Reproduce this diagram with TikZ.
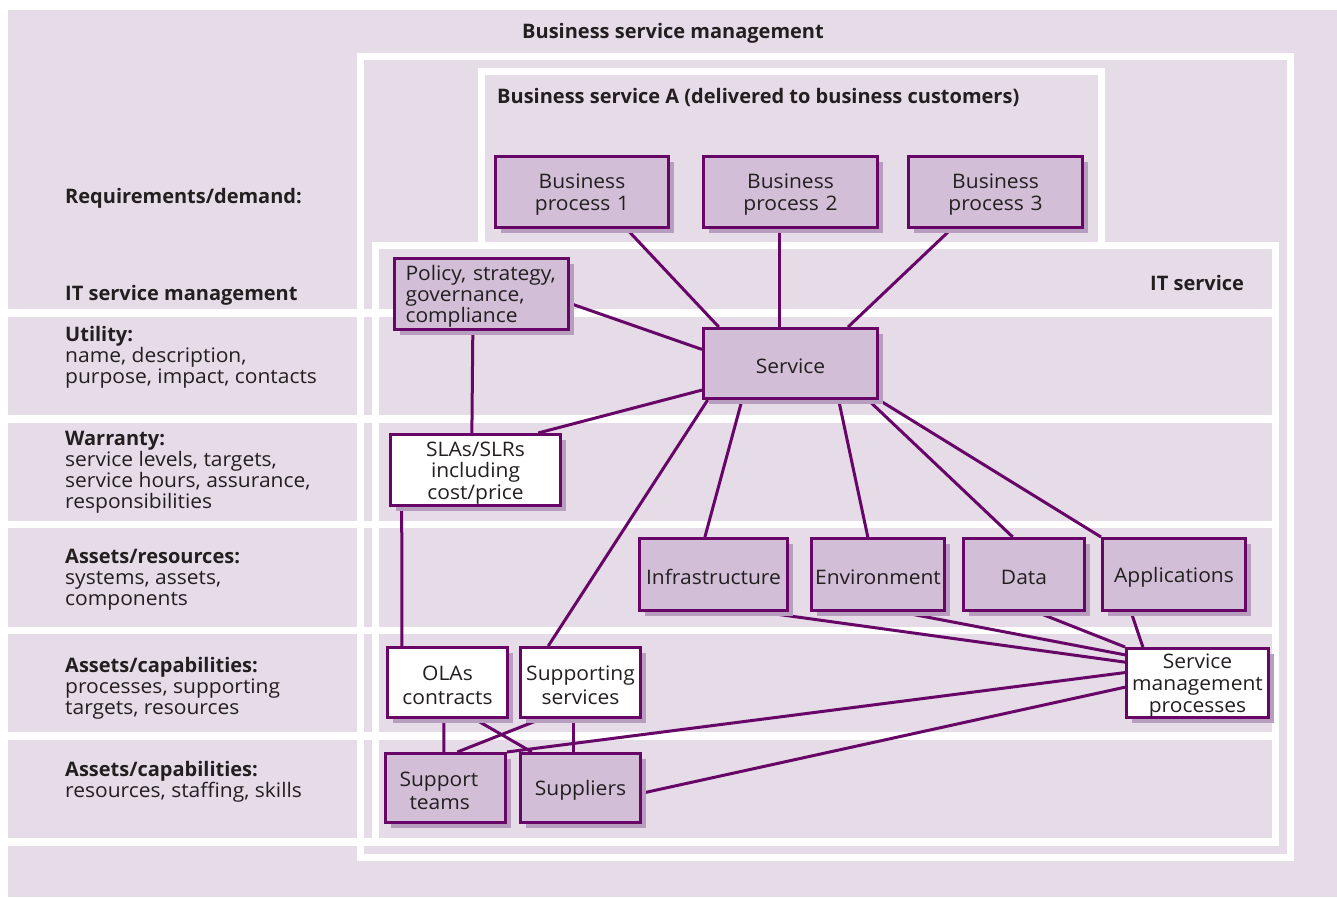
\documentclass[tikz,border=0pt]{standalone}
\usepackage{fontspec}
\setmainfont{Open Sans}[UprightFeatures={FakeStretch=1.05}]
\usetikzlibrary{calc,shadows}
\definecolor{bgc}{RGB}{229,220,232}
\definecolor{boxc}{RGB}{210,190,214}
\definecolor{shc}{RGB}{184,158,190}
\definecolor{lnc}{RGB}{104,6,104}
\definecolor{txc}{RGB}{35,31,32}
\pgfdeclarelayer{back}
\pgfdeclarelayer{wires}
\pgfsetlayers{back,wires,main}
\newcommand{\lblstack}[1]{\vtop{\halign{##\hfil\cr#1\crcr}}}
\begin{document}
\begin{tikzpicture}[x=1pt,y=-1pt,
  font=\fontsize{20}{21}\selectfont, text=txc,
  box/.style={draw=lnc, line width=3pt, fill=boxc, inner sep=0pt, align=center,
    execute at begin node={\rule{0pt}{20pt}},
    drop shadow={shadow xshift=5pt, shadow yshift=-5pt, fill=shc, opacity=1}},
  wbox/.style={box, fill=white},
  lead/.style={font=\fontsize{20}{#1}\selectfont},
  frame/.style={draw=white, line width=7pt},
  wire/.style={draw=lnc, line width=3pt},
  lbl/.style={anchor=base west, inner sep=0pt}]
\useasboundingbox (0,0) rectangle (1337,897);

% boxes
\node[box, lead=22, text width=167pt, minimum width=173pt, minimum height=71pt] (bp1) at (582,192) {Business\\process 1};
\node[box, lead=22, text width=168pt, minimum width=174pt, minimum height=71pt] (bp2) at (790.5,192) {Business\\process 2};
\node[box, lead=22, text width=168pt, minimum width=174pt, minimum height=71pt] (bp3) at (995.5,192) {Business\\process 3};
\node[box, minimum width=174pt, minimum height=71pt, text width=152pt, align=left] (pol) at (481.5,294) {Policy, strategy,\\governance,\\compliance};
\node[box, minimum width=174pt, minimum height=70pt] (svc) at (790.5,363.5) {Service};
\node[wbox, lead=21.5, text width=164pt, minimum width=170pt, minimum height=71pt] (sla) at (475.5,470) {SLAs/SLRs\\including\\cost/price};
\node[box, minimum width=148pt, minimum height=72pt] (inf) at (713.5,574.5) {Infrastructure};
\node[box, minimum width=133pt, minimum height=72pt] (env) at (878,574.5) {Environment};
\node[box, minimum width=121pt, minimum height=72pt] (dat) at (1024,574.5) {Data};
\node[box, minimum width=143pt, minimum height=72pt] (app) at (1174,574.5) {Applications};
\node[wbox, lead=24, text width=116pt, minimum width=120pt, minimum height=70pt] (ola) at (447.5,682.5) {OLAs\\contracts};
\node[wbox, lead=24, text width=118pt, minimum width=120pt, minimum height=70pt] (sup) at (580.5,682.5) {Supporting\\services};
\node[wbox, lead=22, text width=138pt, minimum width=142pt, minimum height=69pt] (smp) at (1197.5,683) {Service\\management\\processes};
\node[box, lead=23, text width=104pt, align=left, minimum width=120pt, minimum height=69pt] (tea) at (445.5,788) {\hspace*{6pt}Support\\\hspace*{16pt}teams};
\node[box, minimum width=120pt, minimum height=69pt] (spl) at (580.5,788) {Suppliers};

% texts
\node[inner sep=0pt, anchor=base] (tbsm) at (673,38) {\bfseries Business service management};
\node[lbl] (tbsa) at (497,103) {\bfseries Business service A (delivered to business customers)};
\node[lbl] (tits) at (1150,290) {\bfseries IT service};
\node[lbl] (lreq) at (65,203) {\bfseries Requirements/demand:};
\node[lbl] (litsm) at (65,300) {\bfseries IT service management};
\node[lbl] (lutil) at (65,341) {\lblstack{\textbf{Utility:}\cr name, description,\cr purpose, impact, contacts}};
\node[lbl] (lwar) at (65,445) {\lblstack{\textbf{Warranty:}\cr service levels, targets,\cr service hours, assurance,\cr responsibilities}};
\node[lbl] (lres) at (65,563) {\lblstack{\textbf{Assets/resources:}\cr systems, assets,\cr components}};
\node[lbl] (lcapa) at (65,672) {\lblstack{\textbf{Assets/capabilities:}\cr processes, supporting\cr targets, resources}};
\node[lbl] (lcapb) at (65,776) {\lblstack{\textbf{Assets/capabilities:}\cr resources, staffing, skills}};

% background frames and row separators
\begin{pgfonlayer}{back}
\fill[bgc] (8,10) rectangle (1337,897);
\draw[frame] (360.5,56.5) rectangle (1290.5,857.5);
\draw[frame] (481.5,71.5) rectangle (1101.5,245.5);
\draw[frame] (375.5,245.5) rectangle (1275.5,842.5);
\foreach \ya/\yb in {309/317, 415/423, 521/528, 627/634, 732/740, 838/846}
  \fill[white] (8,\ya) rectangle (1272,\yb);
\end{pgfonlayer}

% connectors
\begin{pgfonlayer}{wires}
\draw[wire] ($(bp1.south west)!.754!(bp1.south east)$) -- ($(svc.north west)!.095!(svc.north east)$);
\draw[wire] ($(bp2.south west)!.44!(bp2.south east)$) -- ($(svc.north west)!.44!(svc.north east)$);
\draw[wire] ($(bp3.south west)!.25!(bp3.south east)$) -- ($(svc.north west)!.825!(svc.north east)$);
\draw[wire] ($(pol.north east)!.627!(pol.south east)$) -- ($(svc.north west)!.307!(svc.south west)$);
\draw[wire] ($(pol.south west)!.451!(pol.south east)$) -- ($(sla.north west)!.479!(sla.north east)$);
\draw[wire] ($(svc.north west)!.864!(svc.south west)$) -- ($(sla.north west)!.862!(sla.north east)$);
\draw[wire] ($(svc.south west)!.032!(svc.south east)$) -- ($(sup.north west)!.2375!(sup.north east)$);
\draw[wire] ($(svc.south west)!.226!(svc.south east)$) -- ($(inf.north west)!.443!(inf.north east)$);
\draw[wire] ($(svc.south west)!.772!(svc.south east)$) -- ($(env.north west)!.425!(env.north east)$);
\draw[wire] ($(svc.south west)!.939!(svc.south east)$) -- ($(dat.north west)!.409!(dat.north east)$);
\draw[wire] (svc.south east) -- (app.north west);
\draw[wire] ($(sla.south west)!.0735!(sla.south east)$) -- ($(ola.north west)!.129!(ola.north east)$);
\draw[wire] ($(ola.south west)!.471!(ola.south east)$) -- ($(tea.north west)!.4875!(tea.north east)$);
\draw[wire] ($(ola.south west)!.72!(ola.south east)$) -- ($(spl.north west)!.104!(spl.north east)$);
\draw[wire] ($(sup.south west)!.179!(sup.south east)$) -- ($(tea.north west)!.596!(tea.north east)$);
\draw[wire] ($(sup.south west)!.446!(sup.south east)$) -- ($(spl.north west)!.446!(spl.north east)$);
\draw[wire] (tea.north east) -- ($(smp.north west)!.355!(smp.south west)$);
\draw[wire] ($(spl.north east)!.572!(spl.south east)$) -- ($(smp.north west)!.558!(smp.south west)$);
\draw[wire] ($(inf.south west)!.814!(inf.south east)$) -- ($(smp.north west)!.21!(smp.south west)$);
\draw[wire] ($(env.south west)!.665!(env.south east)$) -- ($(smp.north west)!.109!(smp.south west)$);
\draw[wire] ($(dat.south west)!.6!(dat.south east)$) -- (smp.north west);
\draw[wire] ($(app.south west)!.206!(app.south east)$) -- ($(smp.north west)!.123!(smp.north east)$);
\end{pgfonlayer}
\end{tikzpicture}
\end{document}
